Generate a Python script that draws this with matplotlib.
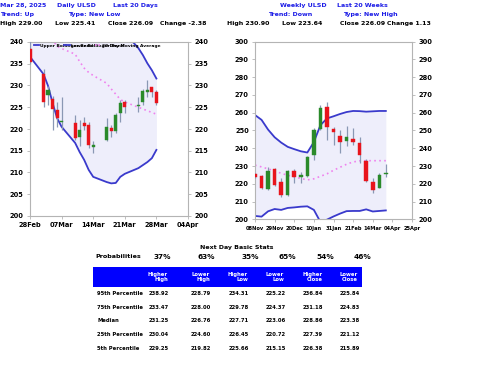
import pandas as pd
import matplotlib
matplotlib.use('Agg')
import matplotlib.pyplot as plt
import matplotlib.dates as mdates
from matplotlib.lines import Line2D

plt.rcParams['font.family'] = 'DejaVu Sans'

# ---- daily data (last 20 days) ----
daily_dates = pd.to_datetime(['2025-02-28', '2025-03-03', '2025-03-04', '2025-03-05', '2025-03-06',
                              '2025-03-07', '2025-03-10', '2025-03-11', '2025-03-12', '2025-03-13',
                              '2025-03-14', '2025-03-17', '2025-03-18', '2025-03-19', '2025-03-20',
                              '2025-03-21', '2025-03-24', '2025-03-25', '2025-03-26', '2025-03-27',
                              '2025-03-28'])
daily_open = [238.5, 232.6, 227.9, 226.9, 224.4, 221.5, 221.3, 218.2, 221.3, 220.9, 215.9,
              217.5, 220.2, 219.6, 223.7, 226.3, 225.2, 226.1, 228.6, 229.6, 228.4]
daily_high = [240.5, 233.7, 229.8, 227.6, 226.3, 227.4, 223.2, 222.1, 222.8, 221.5, 217.2,
              222.5, 221.0, 223.7, 226.7, 226.7, 227.4, 229.3, 231.2, 229.7, 229.0]
daily_low = [235.0, 225.0, 225.5, 219.8, 220.5, 219.8, 217.5, 216.0, 219.8, 215.6, 214.5,
             217.2, 218.2, 219.0, 221.7, 223.6, 223.8, 225.6, 227.4, 227.4, 225.41]
daily_close = [235.5, 226.3, 228.9, 224.5, 222.5, 221.8, 218.0, 219.8, 220.7, 216.3, 216.4,
               220.5, 219.6, 223.2, 225.9, 225.0, 225.5, 228.8, 229.0, 228.47, 226.09]
daily_upper = [249.4, 252.4, 253.1, 255.0, 255.5, 256.5, 257.6, 256.3, 255.1, 255.4, 255.6,
               253.2, 250.9, 248.4, 244.6, 242.1, 238.6, 237.0, 235.1, 233.5, 231.6]
daily_lower = [236.6, 232.6, 229.9, 226.0, 222.5, 220.5, 216.8, 214.7, 212.9, 210.6, 209.0,
               207.8, 207.5, 207.6, 209.0, 209.7, 211.0, 211.7, 212.4, 213.3, 215.2]
daily_ma = [243.0, 242.5, 241.5, 240.5, 239.0, 238.5, 237.2, 235.5, 234.0, 233.0, 232.3,
            230.5, 229.2, 228.0, 226.8, 226.2, 225.0, 224.6, 224.2, 223.8, 223.4]

# ---- weekly data (last 20 weeks) ----
weekly_dates = pd.to_datetime(['2024-11-08', '2024-11-15', '2024-11-22', '2024-11-29', '2024-12-06',
                               '2024-12-13', '2024-12-20', '2024-12-27', '2025-01-03', '2025-01-10',
                               '2025-01-17', '2025-01-24', '2025-01-31', '2025-02-07', '2025-02-14',
                               '2025-02-21', '2025-02-28', '2025-03-07', '2025-03-14', '2025-03-21',
                               '2025-03-28'])
weekly_open = [225.3, 224.4, 217.0, 228.2, 221.0, 213.7, 227.4, 223.6, 224.4, 236.3, 250.8,
               263.4, 250.7, 246.9, 244.1, 245.2, 242.8, 233.0, 221.2, 217.6, 225.5]
weekly_high = [226.0, 225.0, 229.5, 228.8, 223.5, 228.0, 228.2, 226.8, 235.8, 251.2, 264.2,
               266.0, 252.0, 250.5, 252.5, 251.5, 246.5, 233.8, 223.0, 226.0, 230.9]
weekly_low = [223.5, 217.0, 216.5, 218.5, 212.5, 213.0, 220.6, 220.3, 223.7, 233.4, 250.0,
              244.7, 242.0, 237.2, 241.5, 242.0, 231.5, 221.0, 214.6, 217.4, 223.64]
weekly_close = [224.0, 217.6, 227.3, 219.4, 213.7, 227.3, 223.7, 225.0, 235.2, 250.3, 262.4,
                252.0, 248.9, 243.4, 246.2, 243.7, 236.2, 221.7, 216.6, 224.96, 226.09]
weekly_upper = [258.7, 256.0, 250.5, 246.2, 243.2, 240.8, 239.5, 238.3, 237.6, 243.5, 253.0,
                256.8, 258.0, 259.3, 260.4, 261.0, 260.9, 260.6, 260.8, 261.0, 261.0]
weekly_lower = [201.9, 201.5, 204.5, 205.8, 205.3, 206.4, 206.7, 207.1, 207.3, 205.3, 198.5,
                199.8, 201.6, 203.2, 204.6, 204.7, 204.7, 205.6, 204.4, 204.7, 205.0]
weekly_ma = [230.5, 229.5, 228.4, 227.2, 225.9, 224.8, 223.9, 223.0, 222.2, 222.8, 224.2,
             225.6, 227.6, 229.3, 231.0, 232.3, 232.9, 233.0, 233.0, 233.0, 233.0]

# ---- next day stats ----
prob_labels = ['37%', '63%', '35%', '65%', '54%', '46%']
stat_columns = ['Higher\nHigh', 'Lower\nHigh', 'Higher\nLow', 'Lower\nLow', 'Higher\nClose', 'Lower\nClose']
row_labels = ['95th Percentile', '75th Percentile', 'Median', '25th Percentile', '5th Percentile']
stats = [[238.92, 228.79, 234.31, 225.22, 236.84, 225.84],
         [233.47, 228.00, 229.78, 224.37, 231.18, 224.83],
         [231.25, 226.76, 227.71, 223.06, 228.86, 223.38],
         [230.04, 224.60, 226.45, 220.72, 227.39, 221.12],
         [229.25, 219.82, 225.66, 215.15, 226.38, 215.89]]

W, H = 480, 371
RED = '#e8141c'
GREEN = '#2a8a2a'
WICK = '#8a98b4'
BAND = '#3a3acc'
FILL = '#eeeefb'
MA = '#ee82ee'
HEAD = '#1c1ce6'

fig = plt.figure(figsize=(W / 100, H / 100), dpi=100)


def px_text(x, y, s, **kw):
    fig.text(x / W, 1 - y / H, s, va='center', **kw)


def candles(ax, dates, o, h, l, c, width):
    for d, op, hi, lo, cl in zip(dates, o, h, l, c):
        col = GREEN if cl >= op else RED
        ax.vlines(d, lo, hi, color=WICK, lw=0.9, zorder=3)
        ax.bar(d, max(abs(cl - op), 0.25), bottom=min(op, cl), width=width,
               color=col, edgecolor=col, lw=0.3, zorder=4)


def style(ax, ylim, ystep, fs_x):
    ax.set_ylim(*ylim)
    ax.set_yticks(range(ylim[0], ylim[1] + 1, ystep))
    for s in ax.spines.values():
        s.set_color('#b4b4b4')
        s.set_linewidth(0.8)
    ax.tick_params(axis='y', left=True, right=True, labelleft=True, labelright=True,
                   labelsize=4.8, length=2.5, width=0.6, color='#b4b4b4', pad=2)
    ax.tick_params(axis='x', labelsize=fs_x, length=2.5, width=0.6, color='#b4b4b4', pad=2)
    for lab in ax.get_xticklabels() + ax.get_yticklabels():
        lab.set_fontweight('bold')


# ---- left: daily chart ----
ax1 = fig.add_axes([30 / W, 1 - 216 / H, 158 / W, 174 / H])
ax1.fill_between(daily_dates, daily_lower, daily_upper, color=FILL, lw=0, zorder=1)
ax1.plot(daily_dates, daily_upper, color=BAND, lw=1.3, zorder=2)
ax1.plot(daily_dates, daily_lower, color=BAND, lw=1.3, zorder=2)
ax1.plot(daily_dates, daily_ma, color=MA, lw=1.2, ls=(0, (1, 2)), zorder=2)
candles(ax1, daily_dates, daily_open, daily_high, daily_low, daily_close, 0.7)
ax1.set_xlim(pd.Timestamp('2025-02-28'), pd.Timestamp('2025-04-04'))
ax1.set_xticks(pd.date_range('2025-02-28', '2025-04-04', freq='7D'))
ax1.xaxis.set_major_formatter(mdates.DateFormatter('%d%b'))
style(ax1, (200, 240), 5, 4.8)
handles = [Line2D([], [], color=BAND, lw=1.3), Line2D([], [], color=BAND, lw=1.3),
           Line2D([], [], color=MA, lw=1.2, ls=(0, (1, 1)))]
ax1.legend(handles, ['Upper Bollinger Band', 'Lower Bollinger Band', '20 Day Moving Average'],
           loc='upper left', bbox_to_anchor=(0.0, 1.01), ncol=3, frameon=False,
           handlelength=1.2, handletextpad=0.3, columnspacing=-6.5, borderpad=0.3,
           prop={'size': 3.2, 'weight': 'bold'})

# ---- right: weekly chart ----
ax2 = fig.add_axes([255 / W, 1 - 219.3 / H, 157 / W, 177.6 / H])
ax2.fill_between(weekly_dates, weekly_lower, weekly_upper, color=FILL, lw=0, zorder=1)
ax2.plot(weekly_dates, weekly_upper, color=BAND, lw=1.3, zorder=2)
ax2.plot(weekly_dates, weekly_lower, color=BAND, lw=1.3, zorder=2)
ax2.plot(weekly_dates, weekly_ma, color=MA, lw=1.2, ls=(0, (1, 2)), zorder=2)
candles(ax2, weekly_dates, weekly_open, weekly_high, weekly_low, weekly_close, 3.8)
ax2.set_xlim(pd.Timestamp('2024-11-08'), pd.Timestamp('2025-04-25'))
ax2.set_xticks(pd.date_range('2024-11-08', '2025-04-25', freq='21D'))
ax2.xaxis.set_major_formatter(mdates.DateFormatter('%d%b'))
style(ax2, (200, 300), 10, 3.7)

# ---- header text ----
for x, y, s, c in [(0, 5.7, 'Mar 28, 2025', HEAD), (57, 5.7, 'Daily ULSD', HEAD),
                   (113, 5.7, 'Last 20 Days', HEAD), (0, 14.3, 'Trend: Up', HEAD),
                   (68, 14.3, 'Type: New Low', HEAD),
                   (0, 23.3, 'High 229.00', 'black'), (55, 23.3, 'Low 225.41', 'black'),
                   (108, 23.3, 'Close 226.09', 'black'), (160, 23.3, 'Change -2.38', 'black'),
                   (280, 5.7, 'Weekly ULSD', HEAD), (337, 5.7, 'Last 20 Weeks', HEAD),
                   (268, 14.3, 'Trend: Down', HEAD), (343, 14.3, 'Type: New High', HEAD),
                   (227, 23.3, 'High 230.90', 'black'), (282, 23.3, 'Low 223.64', 'black'),
                   (340, 23.3, 'Close 226.09', 'black'), (387, 23.3, 'Change 1.13', 'black')]:
    px_text(x, y, s, color=c, fontsize=4.5, fontweight='bold')

# ---- stats table ----
px_text(237, 247, 'Next Day Basic Stats', ha='center', fontsize=4.5, fontweight='bold')
px_text(95, 257, 'Probabilities', fontsize=4.6, fontweight='bold')
prob_x = [162, 206, 250, 287, 325, 362]
for x, s in zip(prob_x, prob_labels):
    px_text(x, 257, s, ha='center', fontsize=5.3, fontweight='bold')

fig.add_artist(plt.Rectangle((93 / W, 1 - 287 / H), (362 - 93) / W, 20 / H,
                             transform=fig.transFigure, color='#0000ff', lw=0))
head_x = [168, 210, 248, 284, 323, 358]
for x, s in zip(head_x, stat_columns):
    px_text(x, 277, s, ha='right', multialignment='right', color='white',
            fontsize=3.8, fontweight='bold', linespacing=1.1)

val_x = [149, 191, 229, 266, 303, 340]
row_y = [293.3, 307.7, 321, 335, 348.3]
for y, lab, vals in zip(row_y, row_labels, stats):
    px_text(97, y, lab, fontsize=3.8, fontweight='bold')
    for x, v in zip(val_x, vals):
        px_text(x, y, f'{v:.2f}', fontsize=3.8, fontweight='semibold')

fig.savefig('out.png', dpi=100)
